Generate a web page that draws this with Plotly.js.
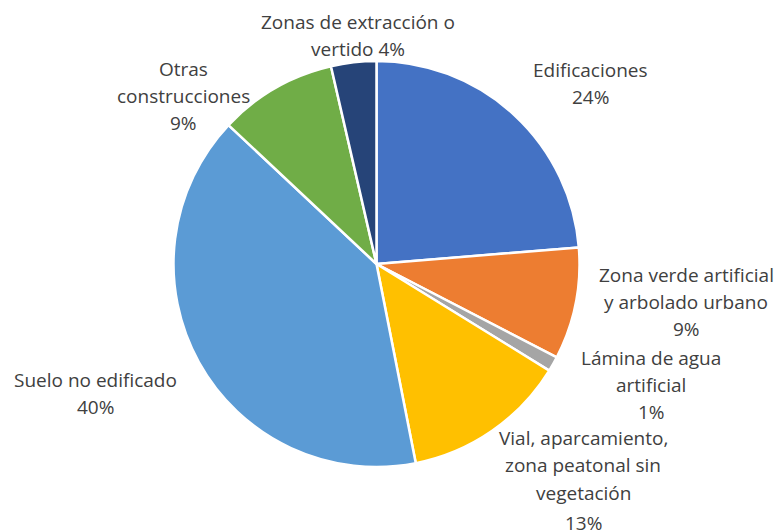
<!DOCTYPE html>
<html>
<head>
<meta charset="utf-8">
<script src="https://cdn.plot.ly/plotly-3.0.1.min.js"></script>
<style>html,body{margin:0;padding:0;background:#fff;}#chart{width:781px;height:530px;}</style>
</head>
<body>
<div id="chart"></div>
<script>
var categories = ["Edificaciones", "Zona verde artificial y arbolado urbano", "Lámina de agua artificial", "Vial, aparcamiento, zona peatonal sin vegetación", "Suelo no edificado", "Otras construcciones", "Zonas de extracción o vertido"];
var values = [23.7, 8.9, 1.2, 13.1, 40.1, 9.4, 3.6];
var colors = ["#4472C4", "#ED7D31", "#A5A5A5", "#FFC000", "#5B9BD5", "#70AD47", "#264478"];
// label lines ("%" token replaced by the computed percentage)
var labelLines = [
  ["Edificaciones", "%"],
  ["Zona verde artificial", "y arbolado urbano", "%"],
  ["Lámina de agua", "artificial", "%"],
  ["Vial, aparcamiento,", "zona peatonal sin", "vegetación", "%"],
  ["Suelo no edificado", "%"],
  ["Otras", "construcciones", "%"],
  ["Zonas de extracción o", "vertido %"]
];
// label anchor positions in pixels (center x, first-line y) and line gaps
var labelPos = [
  [590, 70, [27]],
  [686, 275, [27, 27]],
  [651, 358, [27, 27]],
  [583, 438, [27, 28, 30]],
  [95, 380, [27]],
  [183, 69, [27, 27]],
  [358, 22, [27]]
];

var W = 781, H = 530;
var total = values.reduce(function(a, b){return a + b;}, 0);
var annotations = [];
labelLines.forEach(function(lines, i){
  var pct = Math.round(values[i] / total * 100) + "%";
  var p = labelPos[i];
  var y = p[1];
  lines.forEach(function(line, j){
    if (j > 0) y += p[2][j - 1];
    annotations.push({
      text: line.replace("%", pct),
      xref: "paper", yref: "paper",
      x: p[0] / W, y: 1 - y / H,
      xanchor: "center", yanchor: "middle",
      showarrow: false,
      font: {family: "'Open Sans', sans-serif", size: 19, color: "#404040"}
    });
  });
});

var cx = 376.5, cy = 264, r = 203;
var data = [{
  type: "pie",
  labels: categories,
  values: values,
  sort: false,
  direction: "clockwise",
  rotation: 0,
  textinfo: "none",
  hoverinfo: "label+percent",
  marker: {colors: colors, line: {color: "#FFFFFF", width: 2.5}},
  domain: {x: [(cx - r) / W, (cx + r) / W], y: [1 - (cy + r) / H, 1 - (cy - r) / H]}
}];
var layout = {
  width: W, height: H,
  margin: {l: 0, r: 0, t: 0, b: 0},
  showlegend: false,
  paper_bgcolor: "#FFFFFF",
  annotations: annotations
};
Plotly.newPlot("chart", data, layout, {displayModeBar: false, staticPlot: true});
</script>
</body>
</html>
